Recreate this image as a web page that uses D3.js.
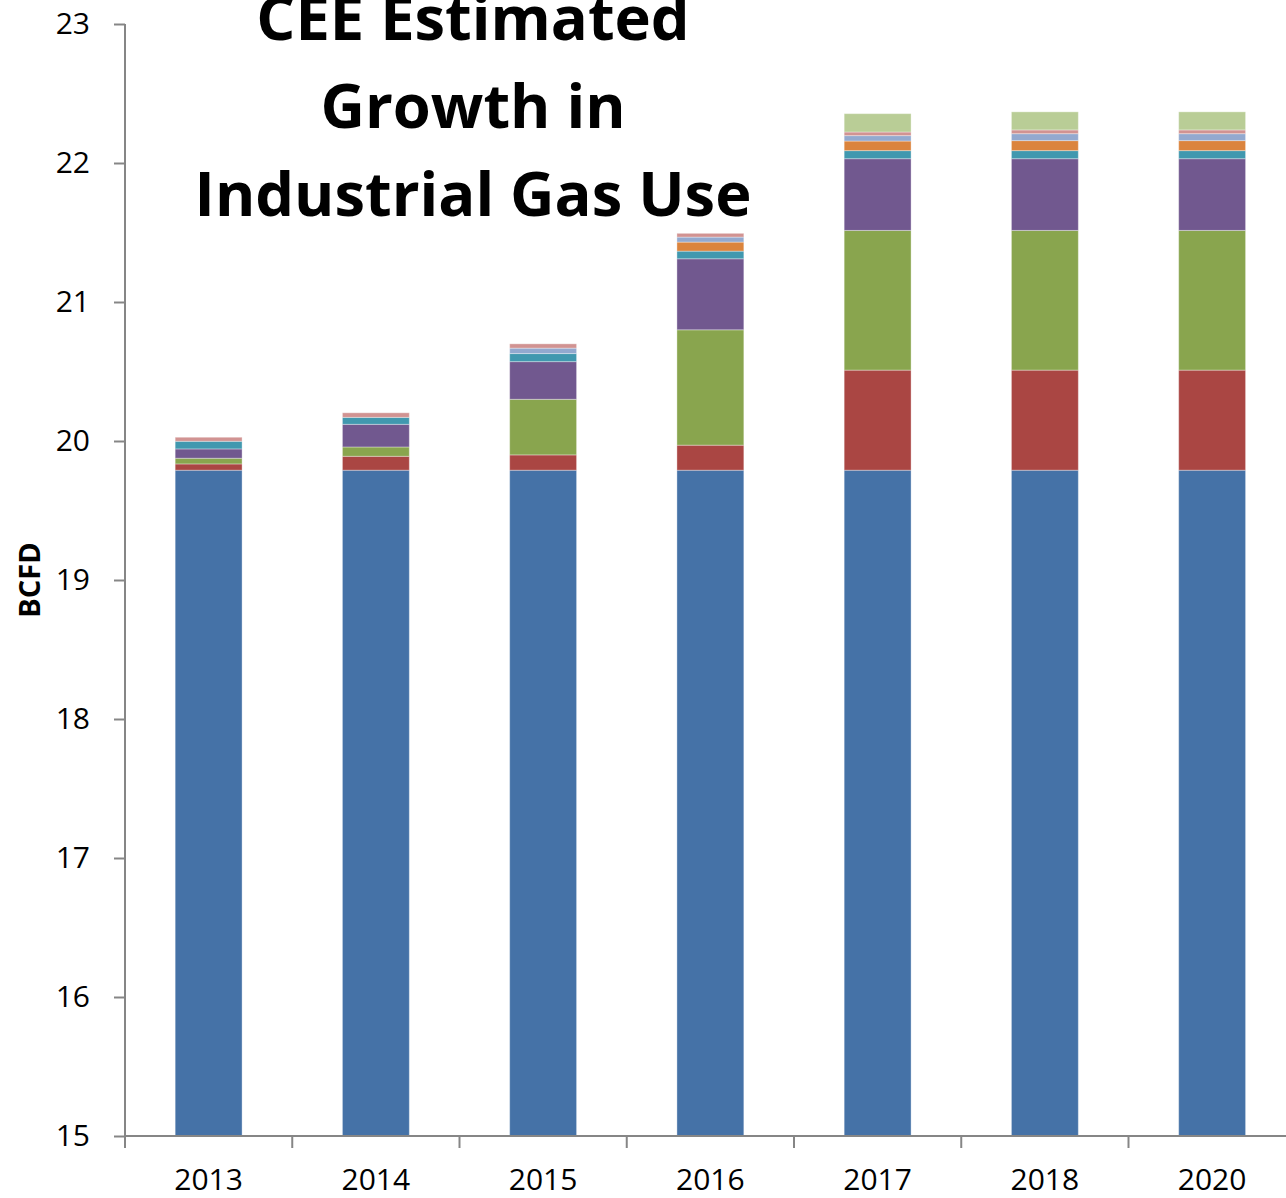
<!DOCTYPE html>
<html>
<head>
<meta charset="utf-8">
<script src="https://cdn.jsdelivr.net/npm/d3@7"></script>
<style>
  body { margin: 0; background: #fff; }
  svg { display: block; font-family: "Open Sans", sans-serif; }
</style>
</head>
<body>
<div id="chart"></div>
<script>
// categories and stacked series (BCFD), bottom to top
var years = ["2013", "2014", "2015", "2016", "2017", "2018", "2020"];
var base       = [19.79, 19.79, 19.79, 19.79, 19.79, 19.79, 19.79];
var seriesRed  = [0.045, 0.10, 0.11, 0.18, 0.72, 0.72, 0.72];
var seriesGrn  = [0.041, 0.067, 0.40, 0.83, 1.005, 1.005, 1.005];
var seriesPur  = [0.067, 0.163, 0.271, 0.511, 0.516, 0.516, 0.516];
var seriesTeal = [0.055, 0.05, 0.058, 0.055, 0.058, 0.058, 0.058];
var seriesOrg  = [0, 0, 0, 0.065, 0.069, 0.072, 0.072];
var seriesLtBl = [0, 0, 0.039, 0.036, 0.039, 0.05, 0.05];
var seriesPink = [0.029, 0.033, 0.031, 0.027, 0.026, 0.027, 0.027];
var seriesLtGr = [0, 0, 0, 0, 0.132, 0.13, 0.13];
var yTicks = [15, 16, 17, 18, 19, 20, 21, 22, 23];
var titleLines = ["CEE Estimated", "Growth in", "Industrial Gas Use"];

var keys = ["base", "red", "green", "purple", "teal", "orange", "ltblue", "pink", "ltgreen"];
var colors = ["#4572A7", "#AA4643", "#89A54E", "#71588F", "#4198AF", "#DB843D", "#93A9CF", "#D19392", "#B9CD96"];
var cols = [base, seriesRed, seriesGrn, seriesPur, seriesTeal, seriesOrg, seriesLtBl, seriesPink, seriesLtGr];

var table = years.map(function(yr, i) {
    var row = {year: yr};
    keys.forEach(function(k, j) { row[k] = cols[j][i]; });
    return row;
});

var width = 1286, height = 1198;
var plotLeft = 125, plotTop = 24, plotBottom = 1136;

var svg = d3.select("#chart").append("svg")
    .attr("width", width)
    .attr("height", height);

var x = d3.scaleBand().domain(years).range([plotLeft, plotLeft + 7 * 167.25]).paddingInner(0.6).paddingOuter(0.3);
var y = d3.scaleLinear().domain([15, 23]).range([plotBottom, plotTop]);
var color = d3.scaleOrdinal().domain(keys).range(colors);

var stacked = d3.stack().keys(keys)(table);

//bars
svg.append("g").selectAll("g")
    .data(stacked)
    .enter().append("g")
    .attr("fill", function(d) { return color(d.key); })
    .selectAll("rect")
    .data(function(d) { return d.filter(function(p) { return p[1] - p[0] > 0; }); })
    .enter().append("rect")
    .attr("x", function(d) { return x(d.data.year); })
    .attr("width", x.bandwidth())
    .attr("y", function(d) { return y(d[1]); })
    .attr("height", function(d) { return y(Math.max(d[0], 15)) - y(d[1]); })
    .attr("stroke", "#fff")
    .attr("stroke-opacity", 0.35)
    .attr("stroke-width", 1);

//y axis
var yAxis = svg.append("g")
    .attr("transform", "translate(" + plotLeft + ",0)")
    .call(d3.axisLeft(y).tickValues(yTicks).tickSize(11).tickPadding(24).tickFormat(d3.format("d")));
yAxis.selectAll("path, line").attr("stroke", "#868686").attr("stroke-width", 2);
yAxis.select(".domain").attr("d", "M0," + plotTop + "V" + plotBottom);
yAxis.selectAll("text").attr("font-size", 30).attr("fill", "#000").attr("font-family", "Open Sans");

//x axis with ticks between categories
var xg = svg.append("g");
xg.append("line")
    .attr("x1", plotLeft).attr("x2", width)
    .attr("y1", plotBottom).attr("y2", plotBottom)
    .attr("stroke", "#868686").attr("stroke-width", 2);
var step = x.step();
d3.range(years.length + 1).forEach(function(i) {
    xg.append("line")
        .attr("x1", plotLeft + i * step).attr("x2", plotLeft + i * step)
        .attr("y1", plotBottom).attr("y2", plotBottom + 12)
        .attr("stroke", "#868686").attr("stroke-width", 2);
});
xg.selectAll("text")
    .data(years)
    .enter().append("text")
    .attr("x", function(d) { return x(d) + x.bandwidth() / 2; })
    .attr("y", 1190)
    .attr("text-anchor", "middle")
    .attr("font-size", 30)
    .text(function(d) { return d; });

//y label
svg.append("text")
    .attr("transform", "translate(40,580) rotate(-90)")
    .attr("text-anchor", "middle")
    .attr("font-size", 29)
    .attr("font-weight", "bold")
    .text("BCFD");

//title
var title = svg.append("g");
var baselines = [40, 128, 216];
titleLines.forEach(function(t, i) {
    title.append("text")
        .attr("x", 473)
        .attr("y", baselines[i])
        .attr("text-anchor", "middle")
        .attr("font-size", 60)
        .attr("font-weight", "bold")
        .text(t);
});
// fit the longest line to ~557px like the reference
var longest = title.selectAll("text").nodes()[2].getComputedTextLength();
var fs = 60 * 557 / longest;
title.selectAll("text").attr("font-size", fs);
</script>
</body>
</html>
